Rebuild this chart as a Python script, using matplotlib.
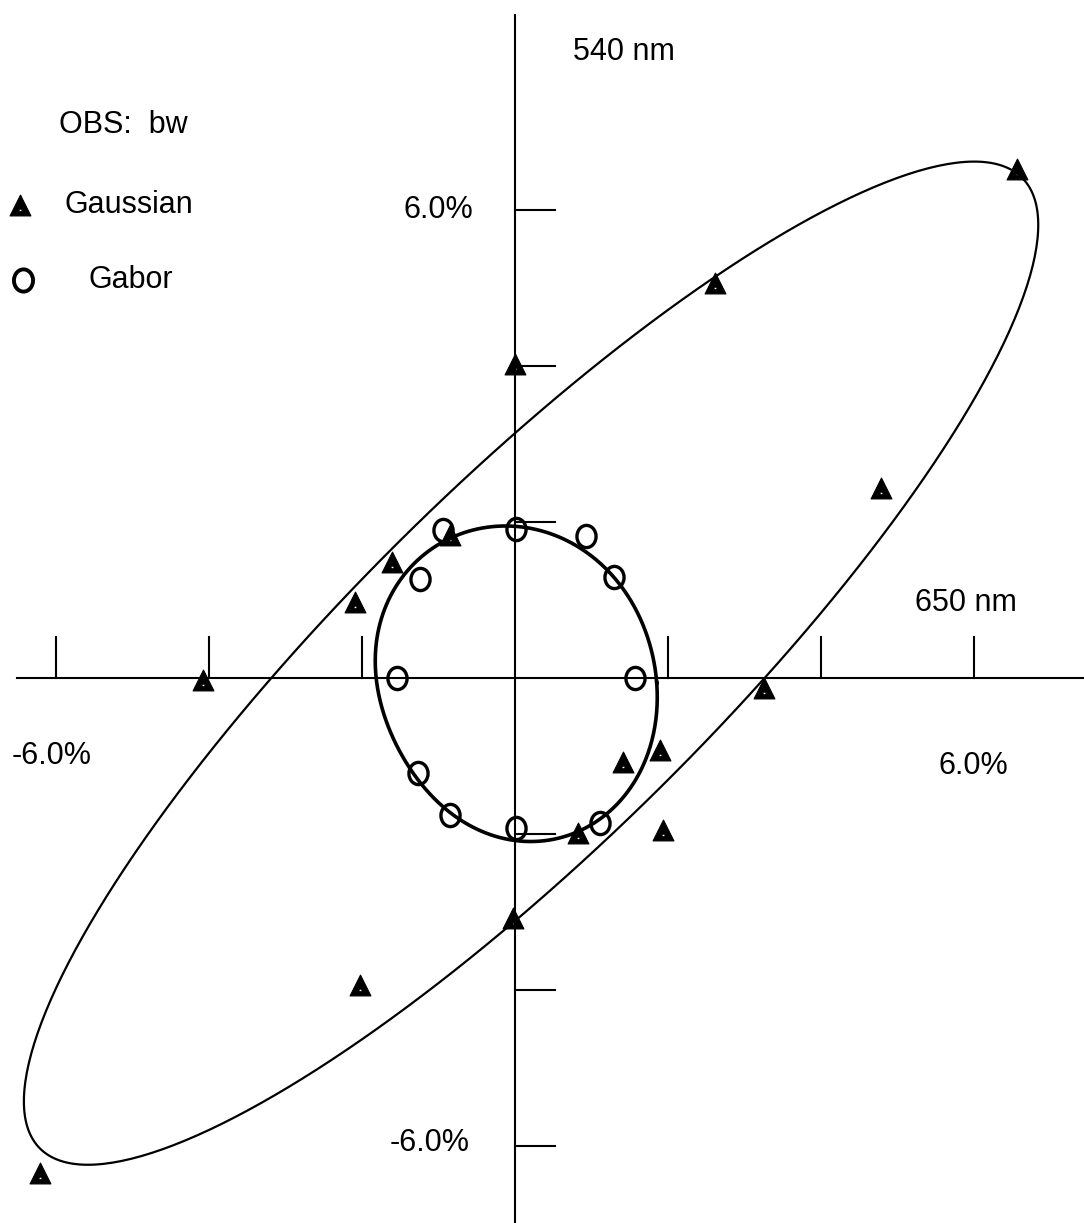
import numpy as np
import matplotlib.pyplot as plt
from matplotlib.path import Path
from matplotlib.transforms import Affine2D

plt.rcParams['font.family'] = ['Liberation Sans', 'DejaVu Sans']

# chromatic shift thresholds (%), 650 nm axis vs 540 nm axis
gauss_x = [6.56, 2.61, 0.0, 4.78, -1.61, -0.85, -2.09, -4.08, 3.25, 1.90, 1.41, 1.93, 0.82, -0.03, -2.03, -6.21]
gauss_y = [6.53, 5.06, 4.03, 2.44, 1.49, 1.83, 0.97, -0.03, -0.13, -0.92, -1.08, -1.95, -1.99, -3.08, -3.94, -6.35]

gabor_x = [0.01, 0.93, -0.94, -1.24, 1.29, -1.54, 1.57, -1.27, -0.85, 0.01, 1.11]
gabor_y = [1.91, 1.82, 1.90, 1.27, 1.29, 0.0, 0.0, -1.22, -1.76, -1.92, -1.86]

# fitted ellipse for the Gaussian data: centre, semi axes, tilt (deg)
gauss_fit_center = (0.21, 0.19)
gauss_fit_axes = (8.94, 2.32)
gauss_fit_angle = 44.0

# fitted contour for the Gabor data, radius against direction
gabor_fit_center = (0.03, -0.06)
gabor_fit_dir = [2, 21, 35, 46, 96, 115, 136, 140, 154, 179, 202, 222, 242, 274, 302, 308, 330]
gabor_fit_r = [1.77, 1.77, 1.86, 1.87, 1.99, 2.02, 2.07, 2.04, 1.97, 1.79, 1.76, 1.84, 1.89, 1.995, 2.05, 2.06, 1.98]

tick_vals = [-6, -4, -2, 2, 4, 6]

# markers: filled triangle with a small notch, and an upright "O"
tri = Path([(0, 1), (-1, -1), (1, -1), (0, 1),
            (-0.14, -0.6), (-0.14, -0.35), (0.14, -0.35), (0.14, -0.6), (-0.14, -0.6)],
           [Path.MOVETO, Path.LINETO, Path.LINETO, Path.CLOSEPOLY,
            Path.MOVETO, Path.LINETO, Path.LINETO, Path.LINETO, Path.CLOSEPOLY])
ring = Path.unit_circle().transformed(Affine2D().scale(0.86, 1.0))

fig = plt.figure(figsize=(10.84, 12.23), dpi=100)
ax = fig.add_axes([0, 0, 1, 1])
ax.set_xlim(-515 / 76.5, 569 / 76.5)
ax.set_ylim(-545 / 78, 678 / 78)
ax.axis('off')

# axes through the origin with inward ticks
ax.plot([-6.51, 7.5], [0, 0], color='black', lw=1.5)
ax.plot([0, 0], [-7.1, 8.5], color='black', lw=1.5)
for t in tick_vals:
    ax.plot([t, t], [0, 0.53], color='black', lw=1.5)
    ax.plot([0, 0.52], [t, t], color='black', lw=1.5)

# Gaussian fit ellipse
th = np.linspace(0, 2 * np.pi, 400)
a, b = gauss_fit_axes
phi = np.deg2rad(gauss_fit_angle)
ex = gauss_fit_center[0] + a * np.cos(th) * np.cos(phi) - b * np.sin(th) * np.sin(phi)
ey = gauss_fit_center[1] + a * np.cos(th) * np.sin(phi) + b * np.sin(th) * np.cos(phi)
ax.plot(ex, ey, color='black', lw=1.6)

# Gabor contour: smooth periodic fit (3 harmonics) through the radii
t0 = np.deg2rad(gabor_fit_dir)
cols = [np.ones_like(t0)]
for k in range(1, 4):
    cols += [np.cos(k * t0), np.sin(k * t0)]
coef, *_ = np.linalg.lstsq(np.column_stack(cols), np.array(gabor_fit_r), rcond=None)
rr = coef[0] + sum(coef[2 * k - 1] * np.cos(k * th) + coef[2 * k] * np.sin(k * th) for k in range(1, 4))
ax.plot(gabor_fit_center[0] + rr * np.cos(th), gabor_fit_center[1] + rr * np.sin(th),
        color='black', lw=2.6)

ax.plot(gauss_x, gauss_y, ls='none', marker=tri, ms=15, mfc='black', mec='black', mew=0.8)
ax.plot(gabor_x, gabor_y, ls='none', marker=ring, ms=16, mfc='none', mec='black', mew=2.4)

fs = 22
ax.text(0.76, 8.03, '540 nm', fontsize=fs, ha='left', va='center')
ax.text(5.23, 0.96, '650 nm', fontsize=fs, ha='left', va='center')
ax.text(-0.55, 6.0, '6.0%', fontsize=fs, ha='right', va='center')
ax.text(-0.59, -5.96, '-6.0%', fontsize=fs, ha='right', va='center')
ax.text(-6.06, -1.0, '-6.0%', fontsize=fs, ha='center', va='center')
ax.text(5.99, -1.13, '6.0%', fontsize=fs, ha='center', va='center')

# key
ax.text(59 / 1084, 1 - 125 / 1223, 'OBS:  bw', fontsize=fs, ha='left', va='center', transform=ax.transAxes)
ax.plot([20 / 1084], [1 - 205 / 1223], marker=tri, ms=15, mfc='black', mec='black', mew=0.8,
        transform=ax.transAxes)
ax.text(64 / 1084, 1 - 205 / 1223, 'Gaussian', fontsize=fs, ha='left', va='center', transform=ax.transAxes)
ax.plot([23 / 1084], [1 - 280 / 1223], marker=ring, ms=16, mfc='none', mec='black', mew=2.8,
        transform=ax.transAxes)
ax.text(89 / 1084, 1 - 280 / 1223, 'Gabor', fontsize=fs, ha='left', va='center', transform=ax.transAxes)

fig.savefig('out.png', dpi=100)
